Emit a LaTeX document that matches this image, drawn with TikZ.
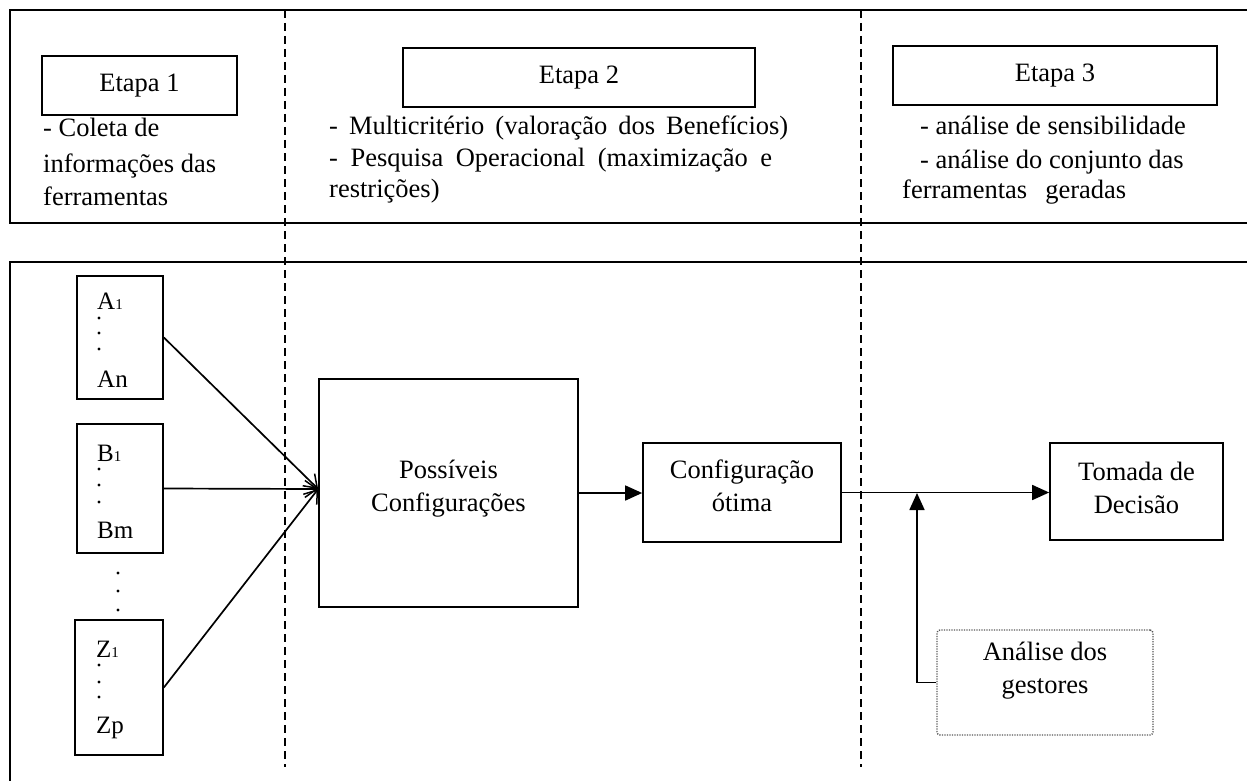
\documentclass[tikz,border=0pt]{standalone}
\usepackage{fontspec}
\setmainfont{Liberation Serif}
\usetikzlibrary{arrows.meta}
\newcommand\lowsub[1]{{\fontsize{15}{15}\selectfont #1}}
\begin{document}
\begin{tikzpicture}[x=1pt,y=-1pt,
  frame/.style={line width=2.4pt},
  box/.style={draw, line width=1.7pt, rectangle, inner sep=0pt, align=center, font=\fontsize{26.5}{33}\selectfont},
  ln/.style={anchor=base west, inner sep=0pt, font=\fontsize{26.5}{33}\selectfont},
  sm/.style={anchor=base west, inner sep=0pt, font=\fontsize{25}{30}\selectfont},
  sep/.style={dash pattern=on 8pt off 5pt, line width=1.5pt},
  conn/.style={line width=1.7pt},
  head/.style={-{Triangle[length=17pt,width=15pt]}},
  barb/.style={-{Straight Barb[length=12pt,width=17pt,line width=1.5pt]}},
  pt/.style={fill=black}
]
\useasboundingbox (0,0) rectangle (1247,781);
\fill[white] (0,0) rectangle (1247,781);

% separators
\draw[sep] (285,10) -- (285,767);
\draw[sep] (861,10) -- (861,767);

% frames
\draw[frame] (1247,10) -- (10,10) -- (10,223) -- (1247,223);
\draw[frame] (1247,262) -- (10,262) -- (10,781);

% stage headers
\node[box, minimum width=195pt, minimum height=59pt] (E1) at (139.5,85.5) {Etapa 1};
\node[box, minimum width=352pt, minimum height=59pt] (E2) at (579,77.5) {Etapa 2};
\node[box, minimum width=324pt, minimum height=59pt] (E3) at (1055,75.5) {Etapa 3};

% stage descriptions
\node[ln] (e1a) at (43,137) {- Coleta de};
\node[ln] (e1b) at (43,172) {informações das};
\node[ln] (e1c) at (43,205) {ferramentas};

\node[ln] (e2a) at (329,135) {\makebox[459pt][s]{- Multicritério (valoração dos Benefícios)}};
\node[ln] (e2b) at (329,166) {\makebox[443pt][s]{- Pesquisa Operacional (maximização e}};
\node[ln] (e2c) at (329,197) {restrições)};

\node[ln] (e3a) at (920,135) {- análise de sensibilidade};
\node[ln] (e3b) at (920,168) {- análise do conjunto das};
\node[ln] (e3c) at (902,198) {\makebox[224pt][s]{ferramentas geradas}};

% tool groups
\node[box, minimum width=86pt, minimum height=123pt] (A) at (120,337.5) {};
\node[box, minimum width=86pt, minimum height=129pt] (B) at (120,488.5) {};
\node[box, minimum width=88pt, minimum height=135pt] (Z) at (119,687.5) {};

\node[sm] (a1) at (97,309) {A\lowsub{1}};
\node[sm] (an) at (97,387) {An};
\fill[pt] (99,318) circle (1.6) (99,333) circle (1.6) (99,349) circle (1.6);
\node[sm] (b1) at (97,461) {B\lowsub{1}};
\node[sm] (bm) at (97,538) {Bm};
\fill[pt] (99,469) circle (1.6) (99,485) circle (1.6) (99,502) circle (1.6);
\node[sm] (z1) at (96,657) {Z\lowsub{1}};
\node[sm] (zp) at (96,733) {Zp};
\fill[pt] (99,665) circle (1.6) (99,682) circle (1.6) (99,697) circle (1.6);
\fill[pt] (118,573) circle (1.6) (118,591) circle (1.6) (118,610) circle (1.6);

% main flow
\node[box, minimum width=259pt, minimum height=228pt] (P) at (448.5,493) {Possíveis\\Configurações\rule[-15pt]{0pt}{15pt}};
\node[box, minimum width=198pt, minimum height=99pt] (C) at (742,492.5) {Configuração\\ótima\rule[-14pt]{0pt}{14pt}};
\node[box, minimum width=173pt, minimum height=97pt] (T) at (1136.5,491.5) {Tomada de\\Decisão\rule[-8pt]{0pt}{8pt}};
\node[box, draw=black!65, line width=1.4pt, dash pattern=on 1.2pt off 1.3pt, rounded corners=3pt, minimum width=216pt, minimum height=105pt] (G) at (1045,682.5) {Análise dos\\gestores\rule[-30pt]{0pt}{30pt}};

\coordinate (Pin) at ([yshift=4pt]P.west);
\coordinate (J) at (917,493);

\draw[conn, barb] (A.east) -- (Pin);
\draw[conn, barb] (B.east) -- (Pin);
\draw[conn, barb] (Z.east) -- (Pin);
\draw[conn, head] (P.east) -- (P.east -| C.west);
\draw[conn, head] (C.east) -- (C.east -| T.west);
\draw[conn, head] (G.west) -| (J);
\end{tikzpicture}
\end{document}
